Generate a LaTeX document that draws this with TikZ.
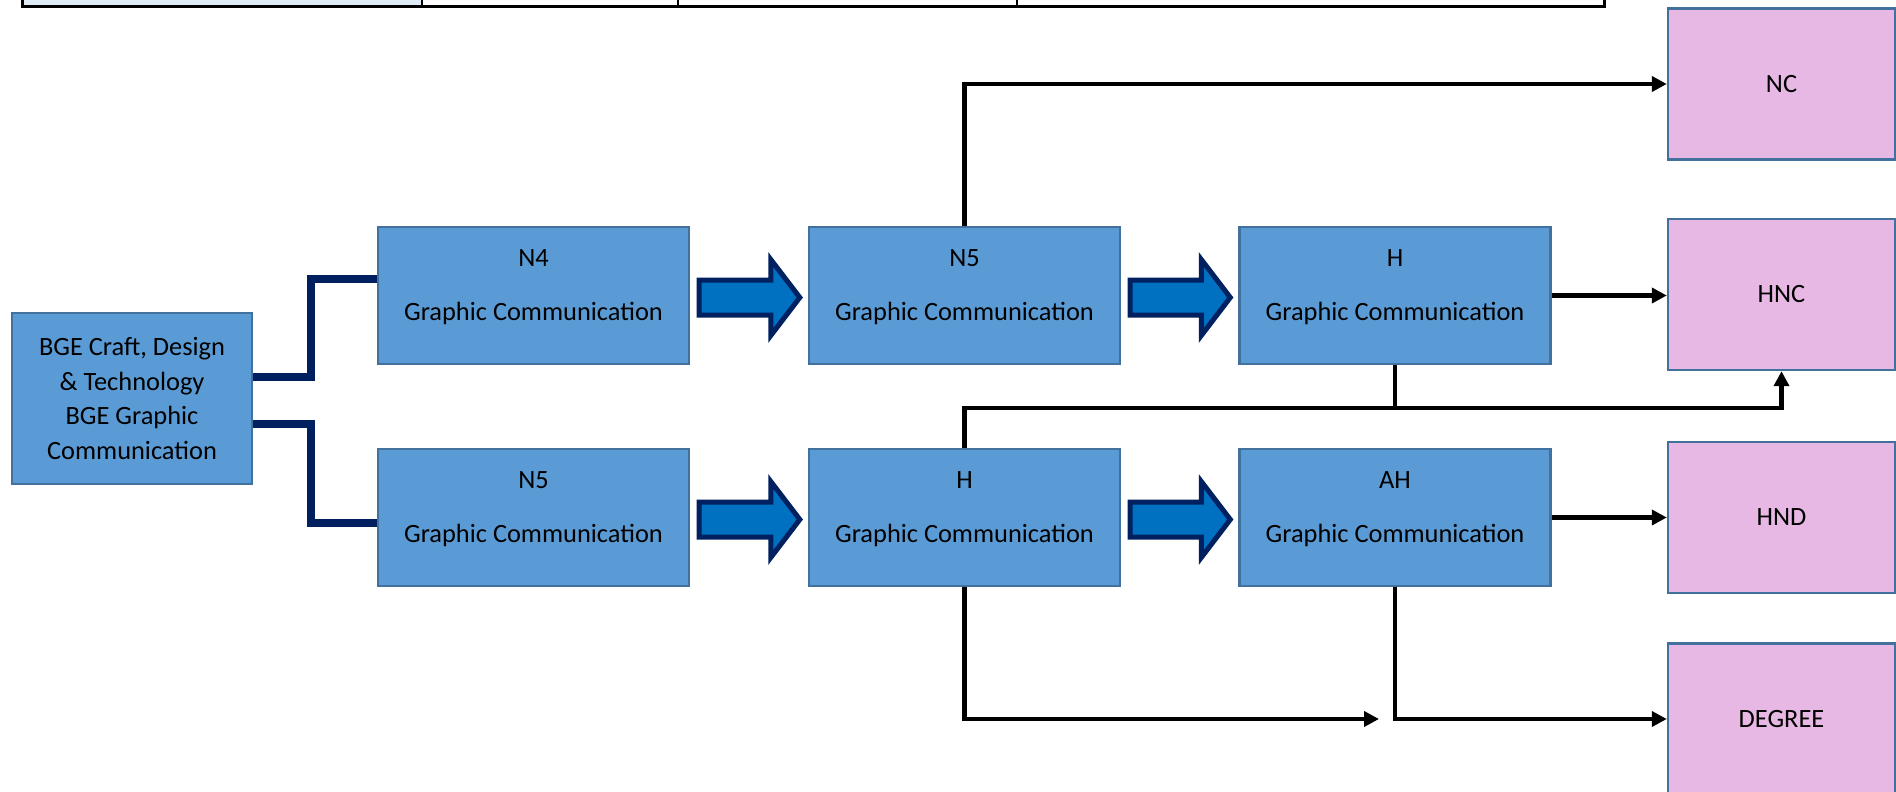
\documentclass[tikz,border=0pt]{standalone}
\usepackage{fontspec}
\setmainfont{Carlito}
\usetikzlibrary{arrows.meta,calc}
\definecolor{boxblue}{HTML}{5B9BD5}
\definecolor{boxedge}{HTML}{41719C}
\definecolor{pinkfill}{HTML}{E6B8E3}
\definecolor{arrowfill}{HTML}{0070C0}
\definecolor{navy}{HTML}{002060}
\definecolor{tablefill}{HTML}{DEEAF6}
\tikzset{
  bluebox/.style={rectangle, fill=boxblue, draw=boxedge, line width=1.2pt, minimum width=155.5pt, minimum height=68.5pt, inner sep=0pt},
  bgebox/.style={rectangle, fill=boxblue, draw=boxedge, line width=1.2pt, minimum width=120pt, minimum height=85.5pt, inner sep=0pt, align=center},
  pinkbox/.style={rectangle, fill=pinkfill, draw=boxedge, line width=1.2pt, minimum width=113.5pt, minimum height=75.5pt, inner sep=0pt},
  boxtext/.style={anchor=base, inner sep=0pt},
  navyline/.style={draw=navy, line width=4pt, miter limit=10},
  conn/.style={draw=black, line width=2.1pt, -{Triangle[length=7.5pt,width=7.5pt]}},
  plainline/.style={draw=black, line width=2.1pt},
  blockarr/.style={fill=arrowfill, draw=navy, line width=2.5pt, line join=miter}
}
\newcommand\gcbox[4]{%
  \node[bluebox] (#1) at (#2,#3) {};
  \node[boxtext] (#1t) at ([yshift=-20.2pt]#1.north) {#4};
  \node[boxtext] (#1s) at ([yshift=-47.2pt]#1.north) {Graphic Communication};
}
\newcommand\blockarrow[2]{%
  \filldraw[blockarr] ($(#1.east)+(9,-15.5)$) -- ($(#2.west)+(-37,-15.5)$) -- ($(#2.west)+(-37,-36)$)
    -- ($(#2.west)+(-8,2)$) -- ($(#2.west)+(-37,40)$) -- ($(#2.west)+(-37,19.5)$)
    -- ($(#1.east)+(9,19.5)$) -- cycle;
}
\begin{document}
\begin{tikzpicture}[x=0.5pt, y=-0.5pt, font=\fontsize{13.2pt}{17.25pt}\selectfont]
\useasboundingbox (0,0) rectangle (1896,792);
% table fragment at top
\fill[tablefill] (22,-20) rectangle (422,7);
\draw[line width=1pt] (422,-20) -- (422,7) (678,-20) -- (678,7) (1017,-20) -- (1017,7);
\draw[line width=1.5pt] (22,-20) -- (22,7) -- (1604,7) -- (1604,-20);

% left box
\node[bgebox] (bge) at (132,398.5) {\rule{0pt}{0pt}BGE Craft, Design\\\& Technology\\BGE Graphic\\Communication};

% blue boxes
\gcbox{nfoura}{533.5}{295.5}{N4}
\gcbox{nfivea}{964.5}{295.5}{N5}
\gcbox{ha}{1395}{295.5}{H}
\gcbox{nfiveb}{533.5}{517.5}{N5}
\gcbox{hb}{964.5}{517.5}{H}
\gcbox{ah}{1395}{517.5}{AH}

% pink boxes
\node[pinkbox] (nc) at (1781.5,84) {NC};
\node[pinkbox] (hnc) at (1781.5,294.5) {HNC};
\node[pinkbox] (hnd) at (1781.5,517.5) {HND};
\node[pinkbox] (deg) at (1781.5,719) {DEGREE};

% navy connectors
\draw[navyline] ([yshift=10.75pt]bge.east) -- ++(58,0) |- ([yshift=8.25pt]nfoura.west);
\draw[navyline] ([yshift=-12.75pt]bge.east) -- ++(58,0) |- ([yshift=-2.75pt]nfiveb.west);

% block arrows
\blockarrow{nfoura}{nfivea}
\blockarrow{nfivea}{ha}
\blockarrow{nfiveb}{hb}
\blockarrow{hb}{ah}

% black connectors
\coordinate (jn) at (ha.south |- 0,408);
\coordinate (fe) at (1379,719);
\draw[conn] (nfivea.north) |- (nc.west);
\draw[conn] (ha.east) -- (ha.east -| hnc.west);
\draw[plainline] (ha.south) -- (jn);
\draw[conn] (hb.north) |- (hnc.south |- jn) -- (hnc.south);
\draw[conn] (ah.east) -- (hnd.west);
\draw[conn] (hb.south) |- (fe);
\draw[conn] (ah.south) |- (deg.west);
\end{tikzpicture}
\end{document}
